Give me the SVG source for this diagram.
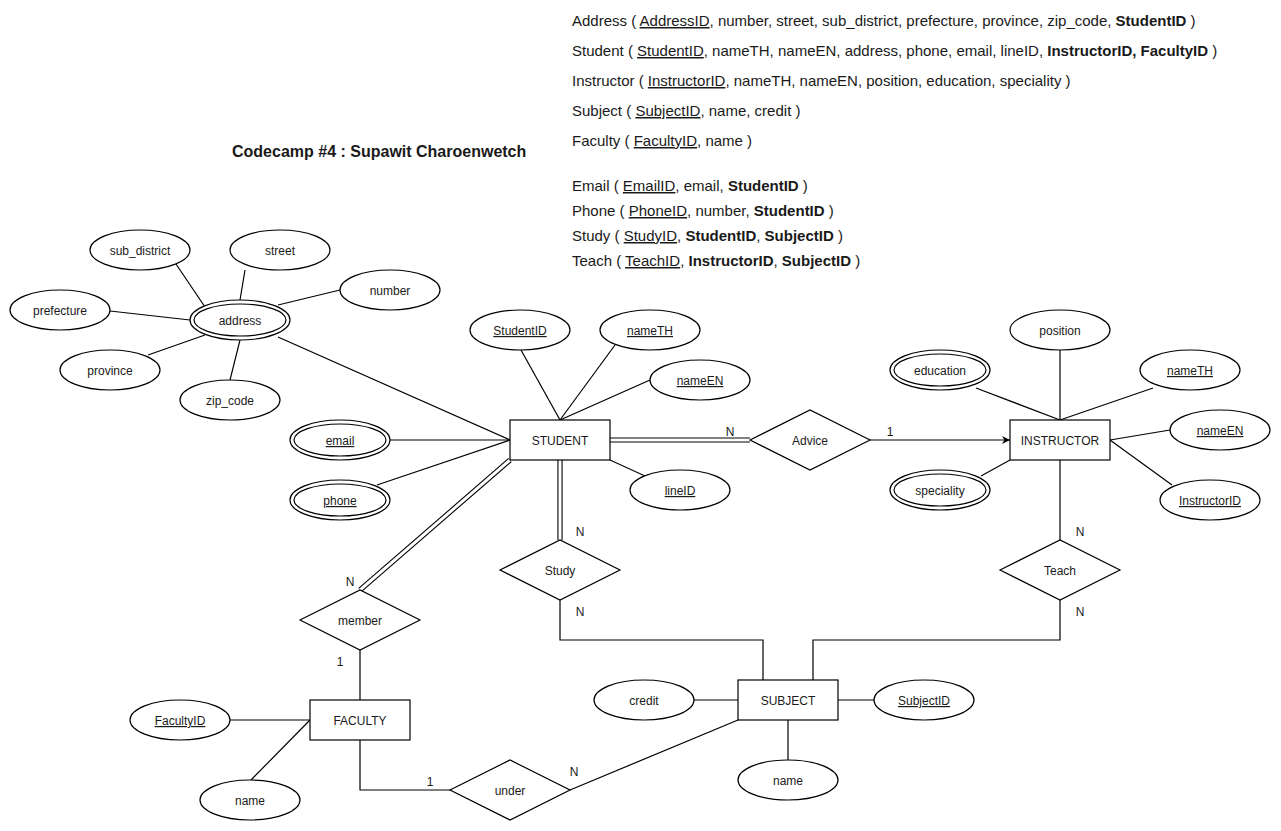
<svg xmlns="http://www.w3.org/2000/svg" width="1281" height="831" viewBox="0 0 1281 831">
  <style>
    text { font-family: "Liberation Sans", Arial, sans-serif; fill: #1a1a1a; }
    .lbl { font-size: 12px; text-anchor: middle; }
    .card { font-size: 12px; text-anchor: middle; }
    .schema { font-size: 15px; }
    .title { font-size: 16px; font-weight: bold; }
    .u { text-decoration: underline; }
    .b { font-weight: bold; }
    .shape { fill: #ffffff; stroke: #000000; stroke-width: 1.2; }
    .edge { fill: none; stroke: #000000; stroke-width: 1.2; }
    .dbl-outer { fill: none; stroke: #000000; stroke-width: 5.2; }
    .dbl-inner { fill: none; stroke: #ffffff; stroke-width: 3; }
  </style>
  <defs>
    <marker id="arrow" viewBox="0 0 10 10" refX="10" refY="5" markerWidth="8" markerHeight="8" markerUnits="userSpaceOnUse" orient="auto">
      <path d="M0,0 L10,5 L0,10 L3,5 z" fill="#000000"/>
    </marker>
  </defs>
  <rect width="1281" height="831" fill="#ffffff"/>

  <!-- relational schema -->
  <g id="schema">
    <text class="schema" x="572" y="26">Address ( <tspan class="u">AddressID</tspan>, number, street, sub_district, prefecture, province, zip_code, <tspan class="b">StudentID</tspan> )</text>
    <text class="schema" x="572" y="56">Student ( <tspan class="u">StudentID</tspan>, nameTH, nameEN, address, phone, email, lineID, <tspan class="b">InstructorID, FacultyID</tspan> )</text>
    <text class="schema" x="572" y="86">Instructor ( <tspan class="u">InstructorID</tspan>, nameTH, nameEN, position, education, speciality )</text>
    <text class="schema" x="572" y="116">Subject ( <tspan class="u">SubjectID</tspan>, name, credit )</text>
    <text class="schema" x="572" y="146">Faculty ( <tspan class="u">FacultyID</tspan>, name )</text>
    <text class="schema" x="572" y="191">Email ( <tspan class="u">EmailID</tspan>, email, <tspan class="b">StudentID</tspan> )</text>
    <text class="schema" x="572" y="216">Phone ( <tspan class="u">PhoneID</tspan>, number, <tspan class="b">StudentID</tspan> )</text>
    <text class="schema" x="572" y="241">Study ( <tspan class="u">StudyID</tspan>, <tspan class="b">StudentID</tspan>, <tspan class="b">SubjectID</tspan> )</text>
    <text class="schema" x="572" y="266">Teach ( <tspan class="u">TeachID</tspan>, <tspan class="b">InstructorID</tspan>, <tspan class="b">SubjectID</tspan> )</text>
  </g>
  <g id="title">
    <text class="title" x="232" y="157">Codecamp #4 : Supawit Charoenwetch</text>
  </g>

  <!-- connectors -->
  <g id="connectors">
    <!-- address components -->
    <line class="edge" x1="176" y1="264" x2="205" y2="307"/>
    <line class="edge" x1="245" y1="270" x2="240" y2="300"/>
    <line class="edge" x1="340" y1="290" x2="278" y2="305"/>
    <line class="edge" x1="110" y1="311" x2="190" y2="320"/>
    <line class="edge" x1="148" y1="355" x2="205" y2="335"/>
    <line class="edge" x1="230" y1="380" x2="240" y2="340"/>
    <!-- student attributes -->
    <line class="edge" x1="278" y1="337" x2="510" y2="440"/>
    <line class="edge" x1="521" y1="350" x2="560" y2="420"/>
    <line class="edge" x1="615" y1="345" x2="560" y2="420"/>
    <line class="edge" x1="650" y1="380" x2="560" y2="420"/>
    <line class="edge" x1="390" y1="440" x2="510" y2="440"/>
    <line class="edge" x1="377" y1="485" x2="510" y2="440"/>
    <line class="edge" x1="645" y1="476" x2="610" y2="460"/>
    <!-- total participation links -->
    <path class="dbl-outer" d="M610,440 H750"/>
    <path class="dbl-inner" d="M610,440 H750"/>
    <path class="dbl-outer" d="M560,460 V540"/>
    <path class="dbl-inner" d="M560,460 V540"/>
    <path class="dbl-outer" d="M510,460 L360,590"/>
    <path class="dbl-inner" d="M510,460 L360,590"/>
    <!-- advice -->
    <line class="edge" x1="870" y1="440" x2="1010" y2="440" marker-end="url(#arrow)"/>
    <!-- instructor attributes -->
    <line class="edge" x1="976" y1="388" x2="1060" y2="420"/>
    <line class="edge" x1="1060" y1="350" x2="1060" y2="420"/>
    <line class="edge" x1="1153" y1="388" x2="1060" y2="420"/>
    <line class="edge" x1="1170" y1="430" x2="1110" y2="440"/>
    <line class="edge" x1="1172" y1="485" x2="1110" y2="440"/>
    <line class="edge" x1="981" y1="476" x2="1010" y2="460"/>
    <!-- relationships to subject / faculty -->
    <line class="edge" x1="1060" y1="460" x2="1060" y2="540"/>
    <path class="edge" d="M1060,600 V640 H813 V680"/>
    <path class="edge" d="M560,600 V640 H763 V680"/>
    <line class="edge" x1="360" y1="650" x2="360" y2="700"/>
    <path class="edge" d="M360,740 V790 H450"/>
    <line class="edge" x1="738" y1="720" x2="570" y2="790"/>
    <!-- faculty / subject attributes -->
    <line class="edge" x1="230" y1="720" x2="310" y2="720"/>
    <line class="edge" x1="251" y1="780" x2="310" y2="720"/>
    <line class="edge" x1="694" y1="700" x2="738" y2="700"/>
    <line class="edge" x1="838" y1="700" x2="874" y2="700"/>
    <line class="edge" x1="788" y1="720" x2="788" y2="760"/>
    <!-- cardinalities -->
    <text class="card" x="730" y="436">N</text>
    <text class="card" x="890" y="436">1</text>
    <text class="card" x="580" y="536">N</text>
    <text class="card" x="580" y="616">N</text>
    <text class="card" x="350" y="586">N</text>
    <text class="card" x="340" y="666">1</text>
    <text class="card" x="1080" y="536">N</text>
    <text class="card" x="1080" y="616">N</text>
    <text class="card" x="430" y="786">1</text>
    <text class="card" x="574" y="776">N</text>
  </g>

  <!-- entities -->
  <g id="student"><rect class="shape" x="510" y="420" width="100" height="40"/><text class="lbl" x="560" y="445">STUDENT</text></g>
  <g id="instructor"><rect class="shape" x="1010" y="420" width="100" height="40"/><text class="lbl" x="1060" y="445">INSTRUCTOR</text></g>
  <g id="faculty"><rect class="shape" x="310" y="700" width="100" height="40"/><text class="lbl" x="360" y="725">FACULTY</text></g>
  <g id="subject"><rect class="shape" x="738" y="680" width="100" height="40"/><text class="lbl" x="788" y="705">SUBJECT</text></g>

  <!-- relationships -->
  <g id="advice"><polygon class="shape" points="750,440 810,410 870,440 810,470"/><text class="lbl" x="810" y="445">Advice</text></g>
  <g id="study"><polygon class="shape" points="500,570 560,540 620,570 560,600"/><text class="lbl" x="560" y="575">Study</text></g>
  <g id="teach"><polygon class="shape" points="1000,570 1060,540 1120,570 1060,600"/><text class="lbl" x="1060" y="575">Teach</text></g>
  <g id="member"><polygon class="shape" points="300,620 360,590 420,620 360,650"/><text class="lbl" x="360" y="625">member</text></g>
  <g id="under"><polygon class="shape" points="450,790 510,760 570,790 510,820"/><text class="lbl" x="510" y="795">under</text></g>

  <!-- address attributes -->
  <g id="attr-sub-district"><ellipse class="shape" cx="140" cy="250" rx="50" ry="20"/><text class="lbl" x="140" y="255">sub_district</text></g>
  <g id="attr-street"><ellipse class="shape" cx="280" cy="250" rx="50" ry="20"/><text class="lbl" x="280" y="255">street</text></g>
  <g id="attr-number"><ellipse class="shape" cx="390" cy="290" rx="50" ry="20"/><text class="lbl" x="390" y="295">number</text></g>
  <g id="attr-prefecture"><ellipse class="shape" cx="60" cy="310" rx="50" ry="20"/><text class="lbl" x="60" y="315">prefecture</text></g>
  <g id="attr-address"><ellipse class="shape" cx="240" cy="320" rx="50" ry="20"/><ellipse class="shape" cx="240" cy="320" rx="46" ry="16"/><text class="lbl" x="240" y="325">address</text></g>
  <g id="attr-province"><ellipse class="shape" cx="110" cy="370" rx="50" ry="20"/><text class="lbl" x="110" y="375">province</text></g>
  <g id="attr-zip-code"><ellipse class="shape" cx="230" cy="400" rx="50" ry="20"/><text class="lbl" x="230" y="405">zip_code</text></g>

  <!-- student attributes -->
  <g id="attr-student-id"><ellipse class="shape" cx="520" cy="330" rx="50" ry="20"/><text class="lbl u" x="520" y="335">StudentID</text></g>
  <g id="attr-student-name-th"><ellipse class="shape" cx="650" cy="330" rx="50" ry="20"/><text class="lbl u" x="650" y="335">nameTH</text></g>
  <g id="attr-student-name-en"><ellipse class="shape" cx="700" cy="380" rx="50" ry="20"/><text class="lbl u" x="700" y="385">nameEN</text></g>
  <g id="attr-email"><ellipse class="shape" cx="340" cy="440" rx="50" ry="20"/><ellipse class="shape" cx="340" cy="440" rx="46" ry="16"/><text class="lbl u" x="340" y="445">email</text></g>
  <g id="attr-phone"><ellipse class="shape" cx="340" cy="500" rx="50" ry="20"/><ellipse class="shape" cx="340" cy="500" rx="46" ry="16"/><text class="lbl u" x="340" y="505">phone</text></g>
  <g id="attr-line-id"><ellipse class="shape" cx="680" cy="490" rx="50" ry="20"/><text class="lbl u" x="680" y="495">lineID</text></g>

  <!-- instructor attributes -->
  <g id="attr-education"><ellipse class="shape" cx="940" cy="370" rx="50" ry="20"/><ellipse class="shape" cx="940" cy="370" rx="46" ry="16"/><text class="lbl" x="940" y="375">education</text></g>
  <g id="attr-position"><ellipse class="shape" cx="1060" cy="330" rx="50" ry="20"/><text class="lbl" x="1060" y="335">position</text></g>
  <g id="attr-instructor-name-th"><ellipse class="shape" cx="1190" cy="370" rx="50" ry="20"/><text class="lbl u" x="1190" y="375">nameTH</text></g>
  <g id="attr-instructor-name-en"><ellipse class="shape" cx="1220" cy="430" rx="50" ry="20"/><text class="lbl u" x="1220" y="435">nameEN</text></g>
  <g id="attr-speciality"><ellipse class="shape" cx="940" cy="490" rx="50" ry="20"/><ellipse class="shape" cx="940" cy="490" rx="46" ry="16"/><text class="lbl" x="940" y="495">speciality</text></g>
  <g id="attr-instructor-id"><ellipse class="shape" cx="1210" cy="500" rx="50" ry="20"/><text class="lbl u" x="1210" y="505">InstructorID</text></g>

  <!-- faculty attributes -->
  <g id="attr-faculty-id"><ellipse class="shape" cx="180" cy="720" rx="50" ry="20"/><text class="lbl u" x="180" y="725">FacultyID</text></g>
  <g id="attr-faculty-name"><ellipse class="shape" cx="250" cy="800" rx="50" ry="20"/><text class="lbl" x="250" y="805">name</text></g>

  <!-- subject attributes -->
  <g id="attr-credit"><ellipse class="shape" cx="644" cy="700" rx="50" ry="20"/><text class="lbl" x="644" y="705">credit</text></g>
  <g id="attr-subject-id"><ellipse class="shape" cx="924" cy="700" rx="50" ry="20"/><text class="lbl u" x="924" y="705">SubjectID</text></g>
  <g id="attr-subject-name"><ellipse class="shape" cx="788" cy="780" rx="50" ry="20"/><text class="lbl" x="788" y="785">name</text></g>
</svg>
